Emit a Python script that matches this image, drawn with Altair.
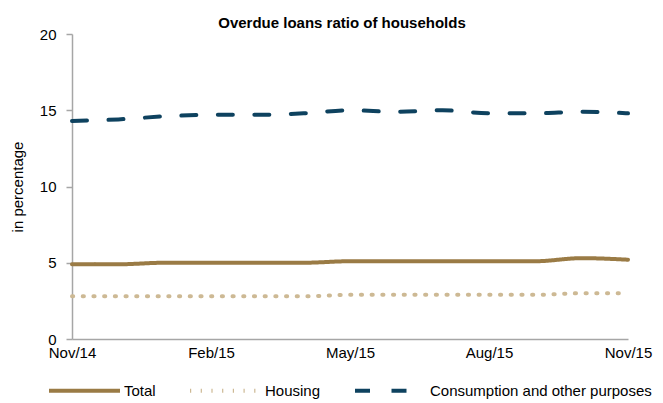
import altair as alt
import pandas as pd

months = ["Nov/14", "Dec/14", "Jan/15", "Feb/15", "Mar/15", "Apr/15", "May/15",
          "Jun/15", "Jul/15", "Aug/15", "Sep/15", "Oct/15", "Nov/15"]
total = [4.9, 4.9, 5.0, 5.0, 5.0, 5.0, 5.1, 5.1, 5.1, 5.1, 5.1, 5.3, 5.2]
housing = [2.8, 2.8, 2.8, 2.8, 2.8, 2.8, 2.9, 2.9, 2.9, 2.9, 2.9, 3.0, 3.0]
consumption = [14.3, 14.4, 14.6, 14.7, 14.7, 14.8, 15.0, 14.9, 15.0, 14.8, 14.8, 14.9, 14.8]

series_names = ["Total", "Housing", "Consumption and other purposes"]
series_colors = ["#9A7B45", "#CDB994", "#0E425F"]
series_dashes = [[1, 0], [1.2, 9.5], [15, 21.5]]
series_widths = [4, 4, 5]
tick_months = ["Nov/14", "Feb/15", "May/15", "Aug/15", "Nov/15"]
y_ticks = [0, 5, 10, 15, 20]

rows = []
for name, vals in zip(series_names, [total, housing, consumption]):
    for m, v in zip(months, vals):
        rows.append({"month": m, "value": v, "series": name})
df = pd.DataFrame(rows)

FONT = "Liberation Sans"

legend = alt.Legend(
    title=None, orient="none", direction="horizontal", legendX=-25, legendY=319,
    symbolType="stroke", symbolSize=5041, symbolStrokeWidth=4,
    labelFont=FONT, labelFontSize=15, labelColor="black", labelOffset=2,
    labelLimit=320, columnPadding=26,
)

chart = alt.Chart(df).mark_line(strokeCap="round", strokeJoin="round", interpolate="monotone").encode(
    x=alt.X("month:O", sort=months, scale=alt.Scale(type="point", padding=0),
            axis=alt.Axis(values=tick_months, title=None, labelAngle=0, ticks=False,
                          domainColor="#A6A6A6", domainWidth=1.5, labelPadding=6,
                          labelFont=FONT, labelFontSize=15, labelColor="black")),
    y=alt.Y("value:Q", scale=alt.Scale(domain=[0, 20], nice=False, zero=True),
            axis=alt.Axis(values=y_ticks, title="in percentage", grid=False,
                          domainColor="#A6A6A6", domainWidth=1.5, tickColor="#A6A6A6",
                          tickWidth=1.5, tickSize=6, labelPadding=10, labelFont=FONT,
                          labelFontSize=15, labelColor="black", titleFont=FONT,
                          titleFontSize=15, titleFontWeight="normal", titleColor="black",
                          titleX=-47)),
    color=alt.Color("series:N", scale=alt.Scale(domain=series_names, range=series_colors), legend=legend),
    strokeDash=alt.StrokeDash("series:N", scale=alt.Scale(domain=series_names, range=series_dashes), legend=legend),
    strokeWidth=alt.StrokeWidth("series:N", scale=alt.Scale(domain=series_names, range=series_widths), legend=None),
).properties(
    width=556, height=305,
    title=alt.TitleParams("Overdue loans ratio of households", font=FONT, fontSize=15,
                          fontWeight="bold", color="black", anchor="middle", offset=0,
                          dy=4, dx=-8),
    autosize=alt.AutoSizeParams(type="none"),
    padding={"left": 64, "top": 26, "right": 27, "bottom": 62},
).configure_view(stroke=None)

chart.save("out.html", embed_options={"renderer": "svg", "actions": False})
